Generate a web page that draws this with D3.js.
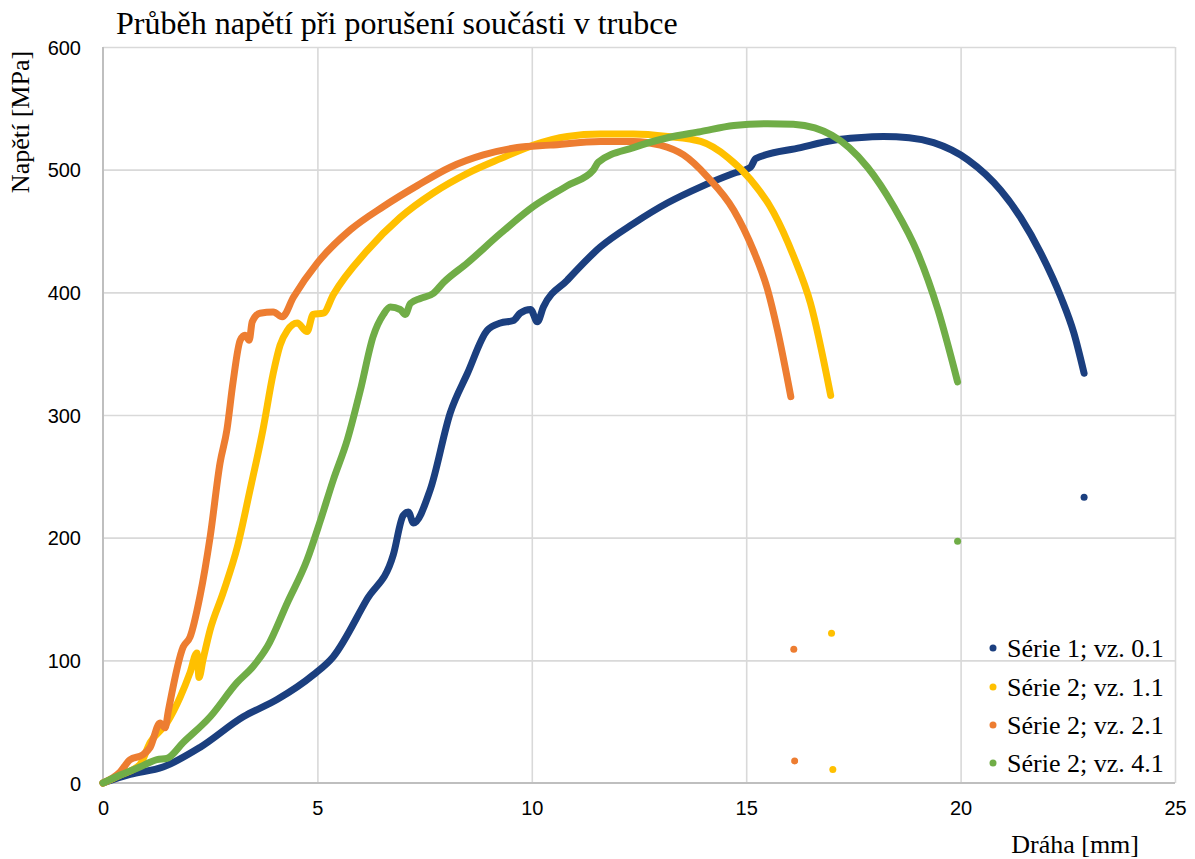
<!DOCTYPE html>
<html>
<head>
<meta charset="utf-8">
<script src="https://cdn.jsdelivr.net/npm/d3@7"></script>
<style>
  html, body { margin: 0; padding: 0; background: #fff; }
  svg { display: block; }
</style>
</head>
<body>
<svg id="chart" width="1195" height="859"></svg>
<script>
// ---- Data ----
const chartTitle = "Průběh napětí při porušení součásti v trubce";
const xTitle = "Dráha [mm]";
const yTitle = "Napětí [MPa]";
const xTicks = [0, 5, 10, 15, 20, 25];
const yTicks = [0, 100, 200, 300, 400, 500, 600];
const seriesNames = ["Série 1; vz. 0.1", "Série 2; vz. 1.1", "Série 2; vz. 2.1", "Série 2; vz. 4.1"];
const seriesColors = ["#1b3f7f", "#ffc000", "#ed7d31", "#70ad47"];

// Série 1; vz. 0.1  [dráha mm, napětí MPa]
const serie1 = [[0,0],[0.63,7],[1.40,13],[2.26,29],[3.27,54],[4.06,68],[4.90,88],[5.37,103],
  [6.16,150],[6.77,186],[7.00,218],[7.12,221],[7.24,212],[7.63,239],[8.10,302],[8.50,334],
  [8.96,369],[9.27,375],[9.57,377],[9.73,383],[9.97,386],[10.13,376],[10.27,388],[10.83,410],
  [11.60,437],[12.37,456],[13.17,473],[13.94,486],[14.71,497],[15.10,502],[15.22,509],
  [16.27,518],[17.04,524],[17.6,526],[18.2,527],[18.8,526],[19.37,522],[20.17,508],[20.94,483],
  [21.40,461],[21.87,432],[22.34,396],[22.64,367],[22.88,334]];
const serie1Extra = [[22.88,233]];

// Série 2; vz. 1.1
const serie2a = [[0,0],[0.40,6.5],[0.86,15],[1.10,33],[1.49,49],[1.80,70],[2.03,90],[2.19,106],
  [2.24,86],[2.33,100],[2.50,125],[2.80,155],[3.13,192],[3.43,239],[3.73,288],[3.97,334],
  [4.13,357],[4.30,369],[4.53,375],[4.76,368],[4.90,382],[5.14,383],[5.37,398],[6.16,434],
  [6.93,461],[7.70,481],[8.50,497],[9.27,509],[10.04,520],[10.83,527],[11.60,529],[12.37,529],
  [13.17,527],[13.94,523],[14.57,510],[15.10,492],[15.64,465],[16.11,429],[16.50,391],[16.97,316]];
const serie2aExtra = [[16.99,122],[17.02,11]];

// Série 2; vz. 2.1
const serie2b = [[0,0],[0.40,9],[0.63,19],[0.93,23],[1.10,29],[1.33,49],[1.45,45],[1.52,58],
  [1.87,111],[2.03,119],[2.26,152],[2.50,201],[2.73,261],[2.89,288],[3.03,326],[3.20,361],
  [3.31,365],[3.41,361],[3.48,376],[3.66,383],[3.97,384],[4.18,380],[4.44,396],[5.00,424],
  [5.77,451],[6.54,470],[7.33,487],[8.10,502],[8.87,512],[9.66,518],[10.43,520],[11.60,523],
  [12.37,523],[13.00,520],[13.54,512],[14.10,494],[14.71,467],[15.17,434],[15.50,402],
  [15.73,369],[16.04,315]];
const serie2bExtra = [[16.11,109],[16.13,18]];

// Série 2; vz. 4.1
const serie2c = [[0,0],[0.40,6.5],[0.86,13],[1.26,19],[1.49,20],[1.87,33],[2.50,54],[3.13,82],
  [3.50,95],[3.83,111],[4.30,147],[4.76,182],[5.07,214],[5.37,247],[5.70,280],[6.00,320],
  [6.30,364],[6.54,382],[6.70,388],[6.93,386],[7.05,382],[7.17,391],[7.40,395],[7.70,399],
  [7.94,408],[8.50,424],[9.27,448],[10.04,470],[10.83,487],[11.44,500],[11.55,506],[12.37,518],
  [13.17,526],[13.94,531],[14.71,536],[15.50,537.5],[16.1,537],[16.6,534],[17.0,528],[17.4,518],
  [17.83,502],[18.44,470],[19.00,432],[19.47,386],[19.93,327]];
const serie2cExtra = [[19.93,197]];

const seriesLines = [serie1, serie2a, serie2b, serie2c];
const seriesExtras = [serie1Extra, serie2aExtra, serie2bExtra, serie2cExtra];

// ---- Layout ----
const svg = d3.select("#chart");
const L = 103, R = 1175, T = 47, B = 783;
const x = d3.scaleLinear().domain([0, 25]).range([L, R]);
const y = d3.scaleLinear().domain([0, 600]).range([B, T]);

const serif = "'Liberation Serif', 'Times New Roman', serif";
const sans = "'Liberation Sans', Arial, sans-serif";

// Gridlines
const gx = d3.axisBottom(x).tickValues(xTicks.filter(d => d > 0)).tickSize(-(B - T)).tickFormat("");
svg.append("g").attr("transform", `translate(0,${B})`).call(gx)
  .call(g => g.select(".domain").remove())
  .call(g => g.selectAll("line").attr("stroke", "#d9d9d9").attr("stroke-width", 1.6));
const gy = d3.axisLeft(y).tickValues(yTicks.filter(d => d > 0)).tickSize(-(R - L)).tickFormat("");
svg.append("g").attr("transform", `translate(${L},0)`).call(gy)
  .call(g => g.select(".domain").remove())
  .call(g => g.selectAll("line").attr("stroke", "#d9d9d9").attr("stroke-width", 1.6));

// Axis lines
svg.append("line").attr("x1", L).attr("x2", R).attr("y1", B).attr("y2", B)
  .attr("stroke", "#bfbfbf").attr("stroke-width", 2);
svg.append("line").attr("x1", L).attr("x2", L).attr("y1", T).attr("y2", B)
  .attr("stroke", "#bfbfbf").attr("stroke-width", 2);

// Tick labels
const ax = d3.axisBottom(x).tickValues(xTicks).tickSize(0).tickPadding(0);
svg.append("g").attr("transform", `translate(0,${B})`).call(ax)
  .call(g => g.select(".domain").remove())
  .call(g => g.selectAll("text").attr("y", 32).attr("dy", "0").attr("font-family", sans)
    .attr("font-size", 20).attr("fill", "#000"));
const ay = d3.axisLeft(y).tickValues(yTicks).tickSize(0).tickPadding(0);
svg.append("g").attr("transform", `translate(${L},0)`).call(ay)
  .call(g => g.select(".domain").remove())
  .call(g => g.selectAll("text").attr("x", -22).attr("dy", "0.35em").attr("font-family", sans)
    .attr("font-size", 20).attr("fill", "#000"));

// Series
const line = d3.line().x(d => x(d[0])).y(d => y(d[1])).curve(d3.curveMonotoneX);
seriesLines.forEach((s, i) => {
  svg.append("path").datum(s).attr("d", line).attr("fill", "none")
    .attr("stroke", seriesColors[i]).attr("stroke-width", 7)
    .attr("stroke-linecap", "round").attr("stroke-linejoin", "round");
});
seriesExtras.forEach((s, i) => {
  svg.append("g").selectAll("circle").data(s).join("circle")
    .attr("cx", d => x(d[0])).attr("cy", d => y(d[1])).attr("r", 3.5)
    .attr("fill", seriesColors[i]);
});

// Title
svg.append("text").attr("x", 116).attr("y", 34).attr("font-family", serif)
  .attr("font-size", 32).attr("fill", "#000").text(chartTitle);

// Axis titles
svg.append("text").attr("x", 1139).attr("y", 853).attr("text-anchor", "end")
  .attr("font-family", serif).attr("font-size", 26).attr("fill", "#000").text(xTitle);
svg.append("text").attr("transform", "translate(29,122) rotate(-90)").attr("text-anchor", "middle")
  .attr("font-family", serif).attr("font-size", 26).attr("fill", "#000").text(yTitle);

// Legend
const legendY = [648, 687, 725, 763];
const lg = svg.append("g");
seriesNames.forEach((n, i) => {
  lg.append("circle").attr("cx", 993).attr("cy", legendY[i]).attr("r", 3.5).attr("fill", seriesColors[i]);
  lg.append("text").attr("x", 1007).attr("y", legendY[i]).attr("dy", "0.33em")
    .attr("font-family", serif).attr("font-size", 26).attr("fill", "#000").text(n);
});
</script>
</body>
</html>
